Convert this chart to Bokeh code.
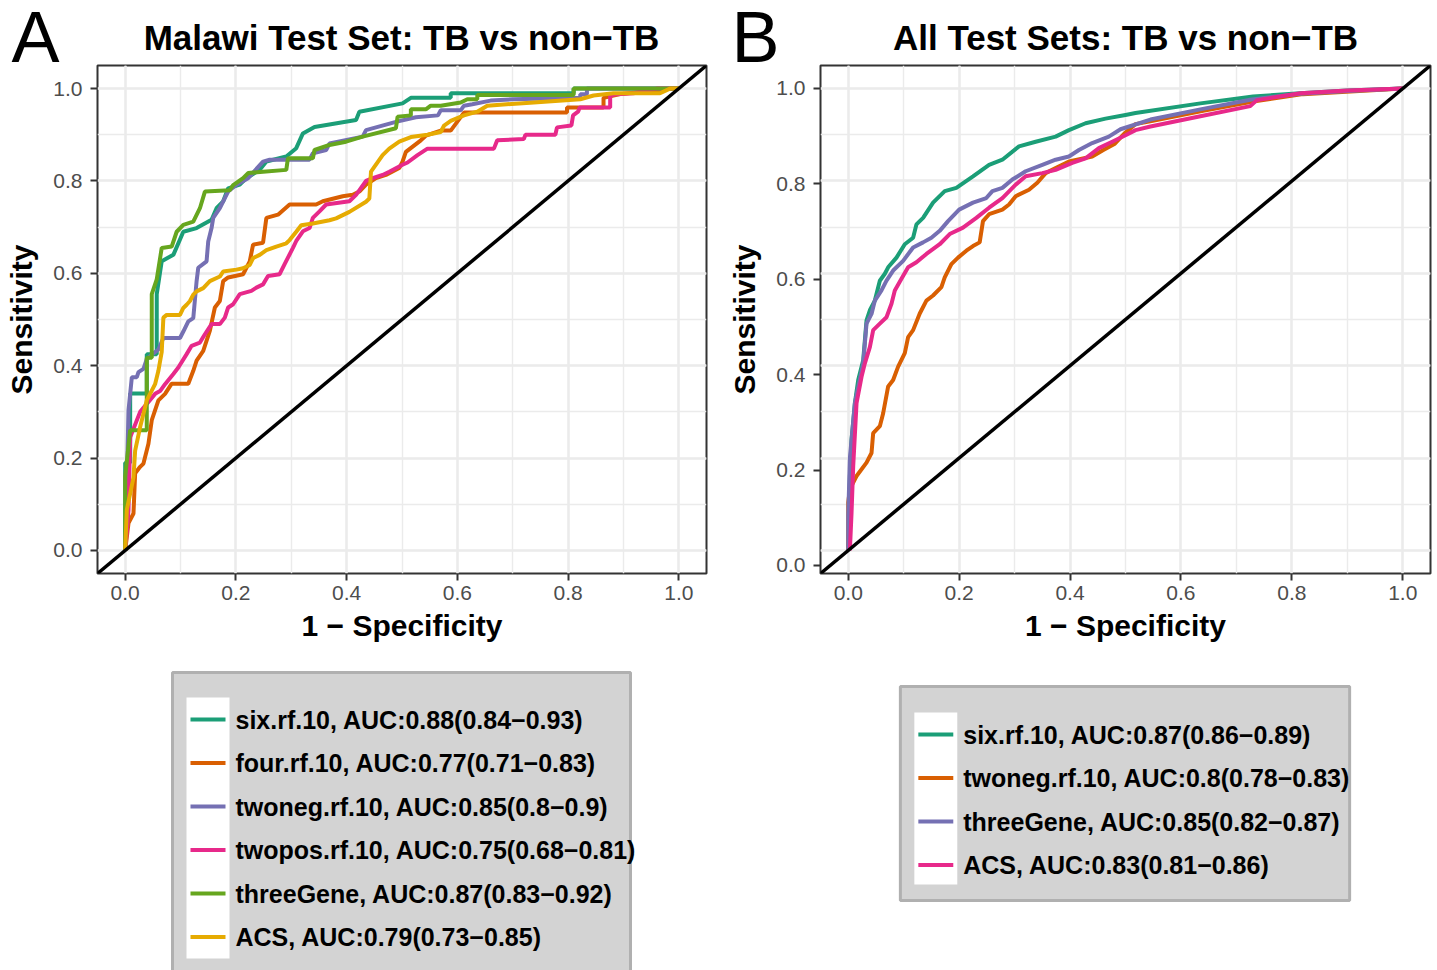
from bokeh.plotting import figure
from bokeh.layouts import row, column
from bokeh.models import (Range1d, SingleIntervalTicker, PrintfTickFormatter, Slope, LinearAxis)
from bokeh.core.properties import value
from bokeh.embed import file_html
from bokeh.resources import INLINE

FONT = "Liberation Sans"
DARK2 = ["#1B9E77", "#D95F02", "#7570B3", "#E7298A", "#66A61E", "#E6AB02"]

# ---------------- Panel A: Malawi test set ----------------
malawi_title = "Malawi Test Set: TB vs non\u2212TB"
malawi_models = ["six.rf.10", "four.rf.10", "twoneg.rf.10", "twopos.rf.10", "threeGene", "ACS"]
malawi_auc = ["0.88", "0.77", "0.85", "0.75", "0.87", "0.79"]
malawi_ci_low = ["0.84", "0.71", "0.8", "0.68", "0.83", "0.73"]
malawi_ci_high = ["0.93", "0.83", "0.9", "0.81", "0.92", "0.85"]

malawi_six = [(0, 0), (0, 0.19), (0.009, 0.19), (0.009, 0.34), (0.039, 0.34), (0.039, 0.425),
              (0.057, 0.425), (0.057, 0.555), (0.066, 0.626), (0.078, 0.634), (0.087, 0.64),
              (0.105, 0.69), (0.129, 0.698), (0.156, 0.716), (0.165, 0.741), (0.177, 0.756),
              (0.186, 0.784), (0.207, 0.792), (0.219, 0.806), (0.243, 0.824), (0.255, 0.842),
              (0.291, 0.853), (0.309, 0.871), (0.321, 0.903), (0.342, 0.917), (0.417, 0.932),
              (0.423, 0.95), (0.501, 0.968), (0.516, 0.98), (0.588, 0.98), (0.588, 0.99),
              (0.81, 0.99), (0.81, 1.0), (1.0, 1.0)]
malawi_four = [(0, 0), (0.006, 0.059), (0.015, 0.08), (0.018, 0.167), (0.027, 0.181), (0.033, 0.188),
               (0.042, 0.231), (0.048, 0.282), (0.06, 0.325), (0.072, 0.339), (0.084, 0.361),
               (0.114, 0.361), (0.123, 0.389), (0.129, 0.411), (0.141, 0.432), (0.153, 0.476),
               (0.162, 0.526), (0.171, 0.54), (0.177, 0.583), (0.186, 0.591), (0.213, 0.598),
               (0.225, 0.626), (0.231, 0.662), (0.249, 0.666), (0.255, 0.72), (0.276, 0.727),
               (0.297, 0.749), (0.345, 0.749), (0.357, 0.756), (0.393, 0.767), (0.411, 0.77),
               (0.423, 0.777), (0.435, 0.792), (0.453, 0.806), (0.471, 0.813), (0.495, 0.828),
               (0.501, 0.842), (0.507, 0.863), (0.534, 0.888), (0.543, 0.898), (0.57, 0.909),
               (0.588, 0.909), (0.612, 0.948), (0.798, 0.948), (0.798, 0.959), (0.864, 0.959),
               (0.864, 0.98), (0.894, 0.988), (0.99, 1.0), (1.0, 1.0)]
malawi_twoneg = [(0, 0), (0.006, 0.303), (0.012, 0.375), (0.021, 0.375), (0.024, 0.386), (0.033, 0.393),
                 (0.039, 0.414), (0.048, 0.424), (0.06, 0.435), (0.069, 0.46), (0.099, 0.46),
                 (0.105, 0.474), (0.114, 0.496), (0.123, 0.503), (0.129, 0.583), (0.132, 0.612),
                 (0.147, 0.626), (0.15, 0.669), (0.156, 0.698), (0.159, 0.72), (0.171, 0.741),
                 (0.18, 0.763), (0.186, 0.777), (0.201, 0.792), (0.222, 0.806), (0.249, 0.842),
                 (0.261, 0.846), (0.333, 0.846), (0.339, 0.86), (0.363, 0.867), (0.369, 0.881),
                 (0.429, 0.896), (0.435, 0.91), (0.489, 0.928), (0.525, 0.938), (0.565, 0.942),
                 (0.57, 0.953), (0.606, 0.953), (0.612, 0.963), (0.627, 0.966), (0.66, 0.974),
                 (0.70, 0.977), (0.822, 0.98), (0.822, 0.988), (0.834, 0.988), (0.834, 1.0), (1.0, 1.0)]
malawi_twopos = [(0, 0), (0.006, 0.088), (0.009, 0.245), (0.027, 0.30), (0.054, 0.339), (0.063, 0.345),
                 (0.072, 0.36), (0.087, 0.382), (0.096, 0.396), (0.111, 0.425), (0.12, 0.443),
                 (0.135, 0.45), (0.144, 0.468), (0.156, 0.49), (0.171, 0.49), (0.18, 0.504),
                 (0.186, 0.526), (0.195, 0.533), (0.207, 0.555), (0.228, 0.562), (0.237, 0.569),
                 (0.249, 0.576), (0.258, 0.594), (0.279, 0.598), (0.288, 0.62), (0.303, 0.655),
                 (0.309, 0.67), (0.321, 0.691), (0.333, 0.698), (0.339, 0.72), (0.351, 0.734),
                 (0.363, 0.749), (0.405, 0.756), (0.417, 0.77), (0.435, 0.80), (0.447, 0.806),
                 (0.465, 0.813), (0.477, 0.82), (0.501, 0.835), (0.51, 0.84), (0.528, 0.856),
                 (0.546, 0.87), (0.666, 0.87), (0.672, 0.888), (0.72, 0.891), (0.723, 0.90),
                 (0.777, 0.90), (0.78, 0.916), (0.806, 0.92), (0.809, 0.942), (0.818, 0.95),
                 (0.821, 0.959), (0.876, 0.959), (0.876, 0.985), (0.888, 0.988), (0.918, 0.99),
                 (0.96, 1.0), (1.0, 1.0)]
malawi_three = [(0, 0), (0, 0.16), (0.009, 0.26), (0.039, 0.26), (0.039, 0.417), (0.048, 0.417),
                (0.048, 0.555), (0.057, 0.587), (0.066, 0.655), (0.084, 0.658), (0.093, 0.69),
                (0.105, 0.705), (0.123, 0.712), (0.135, 0.741), (0.144, 0.777), (0.189, 0.78),
                (0.195, 0.791), (0.213, 0.806), (0.222, 0.817), (0.249, 0.82), (0.291, 0.824),
                (0.294, 0.849), (0.339, 0.849), (0.342, 0.867), (0.369, 0.878), (0.399, 0.885),
                (0.429, 0.896), (0.489, 0.914), (0.492, 0.939), (0.516, 0.942), (0.516, 0.955),
                (0.543, 0.955), (0.552, 0.963), (0.57, 0.963), (0.606, 0.97), (0.618, 0.977),
                (0.636, 0.977), (0.636, 0.986), (0.81, 0.986), (0.81, 1.0), (1.0, 1.0)]
malawi_acs = [(0, 0), (0.003, 0.088), (0.009, 0.123), (0.015, 0.158), (0.018, 0.216), (0.027, 0.267),
              (0.033, 0.296), (0.039, 0.325), (0.054, 0.36), (0.06, 0.389), (0.066, 0.43),
              (0.069, 0.504), (0.075, 0.51), (0.099, 0.51), (0.105, 0.525), (0.111, 0.532),
              (0.117, 0.54), (0.123, 0.554), (0.129, 0.561), (0.141, 0.568), (0.153, 0.583),
              (0.171, 0.593), (0.177, 0.604), (0.201, 0.608), (0.213, 0.611), (0.225, 0.618),
              (0.231, 0.633), (0.243, 0.64), (0.255, 0.65), (0.273, 0.658), (0.291, 0.665),
              (0.297, 0.672), (0.309, 0.69), (0.318, 0.704), (0.339, 0.708), (0.369, 0.715),
              (0.381, 0.719), (0.405, 0.733), (0.435, 0.755), (0.441, 0.762), (0.444, 0.82),
              (0.465, 0.856), (0.477, 0.87), (0.495, 0.885), (0.516, 0.895), (0.546, 0.90),
              (0.57, 0.906), (0.576, 0.92), (0.588, 0.93), (0.612, 0.942), (0.636, 0.95),
              (0.654, 0.963), (0.738, 0.97), (0.822, 0.977), (0.846, 0.985), (0.882, 0.99),
              (0.966, 0.99), (0.984, 1.0), (1.0, 1.0)]
malawi_curves = [malawi_six, malawi_four, malawi_twoneg, malawi_twopos, malawi_three, malawi_acs]

# ---------------- Panel B: all test sets ----------------
all_title = "All Test Sets: TB vs non\u2212TB"
all_models = ["six.rf.10", "twoneg.rf.10", "threeGene", "ACS"]
all_auc = ["0.87", "0.8", "0.85", "0.83"]
all_ci_low = ["0.86", "0.78", "0.82", "0.81"]
all_ci_high = ["0.89", "0.83", "0.87", "0.86"]

all_six = [(0, 0), (0.003, 0.161), (0.006, 0.24), (0.012, 0.319), (0.018, 0.369), (0.027, 0.412),
           (0.033, 0.498), (0.039, 0.52), (0.048, 0.541), (0.057, 0.584), (0.066, 0.599),
           (0.072, 0.613), (0.087, 0.634), (0.102, 0.663), (0.117, 0.677), (0.123, 0.706),
           (0.135, 0.72), (0.153, 0.753), (0.174, 0.778), (0.195, 0.785), (0.225, 0.81),
           (0.254, 0.835), (0.278, 0.846), (0.308, 0.875), (0.338, 0.885), (0.374, 0.896),
           (0.398, 0.91), (0.428, 0.925), (0.464, 0.935), (0.5, 0.943), (0.518, 0.947),
           (0.635, 0.968), (0.73, 0.983), (0.815, 0.99), (0.9, 0.996), (1.0, 1.0)]
all_twoneg = [(0, 0), (0, 0.104), (0.003, 0.133), (0.015, 0.161), (0.033, 0.19), (0.042, 0.211),
              (0.045, 0.254), (0.057, 0.269), (0.063, 0.297), (0.072, 0.355), (0.081, 0.369),
              (0.09, 0.398), (0.102, 0.427), (0.108, 0.462), (0.117, 0.477), (0.129, 0.513),
              (0.141, 0.541), (0.153, 0.552), (0.168, 0.57), (0.174, 0.591), (0.186, 0.62),
              (0.198, 0.634), (0.213, 0.649), (0.225, 0.659), (0.237, 0.667), (0.243, 0.713),
              (0.254, 0.728), (0.278, 0.738), (0.29, 0.749), (0.302, 0.767), (0.326, 0.781),
              (0.341, 0.796), (0.356, 0.817), (0.374, 0.828), (0.398, 0.842), (0.44, 0.853),
              (0.46, 0.867), (0.48, 0.88), (0.5, 0.905), (0.518, 0.923), (0.547, 0.93),
              (0.64, 0.952), (0.73, 0.972), (0.82, 0.988), (1.0, 1.0)]
all_three = [(0, 0), (0, 0.075), (0.003, 0.2), (0.012, 0.319), (0.027, 0.405), (0.033, 0.491),
             (0.042, 0.512), (0.048, 0.541), (0.06, 0.563), (0.069, 0.584), (0.081, 0.606),
             (0.099, 0.627), (0.117, 0.656), (0.135, 0.667), (0.15, 0.677), (0.165, 0.692),
             (0.18, 0.713), (0.2, 0.738), (0.225, 0.753), (0.249, 0.763), (0.26, 0.778),
             (0.278, 0.785), (0.296, 0.803), (0.32, 0.821), (0.35, 0.835), (0.374, 0.846),
             (0.398, 0.853), (0.416, 0.867), (0.44, 0.882), (0.47, 0.896), (0.491, 0.912),
             (0.545, 0.933), (0.635, 0.955), (0.725, 0.976), (0.815, 0.989), (0.9, 0.995), (1.0, 1.0)]
all_acs = [(0.003, 0), (0.006, 0.082), (0.009, 0.183), (0.015, 0.319), (0.024, 0.376), (0.03, 0.405),
           (0.039, 0.44), (0.045, 0.477), (0.057, 0.491), (0.069, 0.505), (0.078, 0.534),
           (0.084, 0.563), (0.096, 0.588), (0.108, 0.613), (0.123, 0.624), (0.141, 0.642),
           (0.165, 0.663), (0.183, 0.685), (0.207, 0.699), (0.231, 0.72), (0.254, 0.742),
           (0.278, 0.763), (0.302, 0.792), (0.32, 0.81), (0.35, 0.817), (0.374, 0.824),
           (0.404, 0.839), (0.428, 0.849), (0.452, 0.871), (0.476, 0.885), (0.5, 0.899),
           (0.518, 0.91), (0.545, 0.918), (0.635, 0.94), (0.725, 0.962), (0.737, 0.975),
           (0.815, 0.99), (0.9, 0.996), (1.0, 1.0)]
all_curves = [all_six, all_twoneg, all_three, all_acs]

panel_letters = ["A", "B"]
panel_titles = [malawi_title, all_title]


def style_axis(ax, label, standoff, label_standoff):
    ax.ticker = SingleIntervalTicker(interval=0.2, num_minor_ticks=2)
    ax.formatter = PrintfTickFormatter(format="%.1f")
    ax.axis_label = label
    ax.axis_label_text_font = FONT
    ax.axis_label_text_font_size = "30px"
    ax.axis_label_text_font_style = "bold"
    ax.axis_label_text_color = "black"
    ax.axis_label_standoff = label_standoff
    ax.major_label_text_font = FONT
    ax.major_label_text_font_size = "21px"
    ax.major_label_text_color = "#4D4D4D"
    ax.major_label_standoff = standoff
    ax.major_tick_in = 0
    ax.major_tick_out = 7
    ax.major_tick_line_width = 2
    ax.major_tick_line_color = "#333333"
    ax.minor_tick_line_color = None
    ax.axis_line_color = None


def roc_panel(curves, colors, width, left, right, custom_y):
    p = figure(width=width, height=596, output_backend="svg", toolbar_location=None,
               x_range=Range1d(-0.05, 1.05), y_range=Range1d(-0.05, 1.05),
               min_border_left=left, min_border_right=right, min_border_top=1,
               min_border_bottom=87, y_axis_location=None if custom_y else "left")
    p.outline_line_color = "#333333"
    p.outline_line_width = 2
    p.background_fill_color = "white"
    p.border_fill_color = "white"

    grid_ticker = SingleIntervalTicker(interval=0.2, num_minor_ticks=2)
    for g in (p.xgrid, p.ygrid):
        g.ticker = grid_ticker
        g.grid_line_color = "#EBEBEB"
        g.grid_line_width = 2.5
        g.minor_grid_line_color = "#EBEBEB"
        g.minor_grid_line_width = 1.4

    style_axis(p.xaxis[0], "1 \u2212 Specificity", 5, 6)
    if custom_y:
        # this panel's tick labels sit slightly lower than its grid in the reference
        p.extra_y_ranges = {"ticks": Range1d(-0.0168, 1.048)}
        yax = LinearAxis(y_range_name="ticks")
        p.add_layout(yax, "left")
    else:
        yax = p.yaxis[0]
    style_axis(yax, "Sensitivity", 8, 12)

    for pts, col in zip(curves, colors):
        xs = [a for a, b in pts]
        ys = [b for a, b in pts]
        p.line(xs, ys, line_color=col, line_width=4)

    p.add_layout(Slope(gradient=1, y_intercept=0, line_color="black", line_width=3.5))
    return p


def header_panel():
    h = figure(width=1437, height=64, output_backend="svg", toolbar_location=None,
               x_range=Range1d(0, 1437), y_range=Range1d(64, 0), min_border=0,
               x_axis_location=None, y_axis_location=None, outline_line_color=None)
    h.grid.visible = False
    h.background_fill_color = "white"
    h.border_fill_color = "white"
    h.text(x=[11, 731], y=[36, 36], text=panel_letters, text_font=value(FONT),
           text_font_size=value("72px"), text_color="black",
           text_baseline="middle", text_align="left")
    h.text(x=[401, 1125], y=[37, 37], text=panel_titles, text_font=value(FONT),
           text_font_size=value("35px"), text_font_style="bold", text_color="black",
           text_baseline="middle", text_align="center")
    return h


def legend_panel(models, aucs, lows, highs, colors, fx0, fx1, box, key, row0, text_x):
    lg = figure(width=718, height=310, output_backend="svg", toolbar_location=None,
                x_range=Range1d(fx0, fx1), y_range=Range1d(970, 660),
                min_border=0, x_axis_location=None, y_axis_location=None,
                outline_line_color=None)
    lg.grid.visible = False
    lg.background_fill_color = "white"
    lg.border_fill_color = "white"
    bl, br, bt, bb = box
    lg.quad(left=[bl], right=[br], top=[bt], bottom=[bb], fill_color="#D3D3D3",
            line_color="#B0B0B0", line_width=3)
    kl, kr, kt, kb = key
    lg.quad(left=[kl], right=[kr], top=[kt], bottom=[kb], fill_color="white", line_color=None)
    step = 43.5
    ys = [row0 + i * step for i in range(len(models))]
    labels = [f"{m}, AUC:{a}({lo}\u2212{hi})" for m, a, lo, hi in zip(models, aucs, lows, highs)]
    lg.segment(x0=[kl + 4] * len(ys), y0=ys, x1=[kr - 4] * len(ys), y1=ys,
               line_color=colors, line_width=4)
    lg.text(x=[text_x] * len(ys), y=ys, text=labels, text_font=value(FONT),
            text_font_size=value("25px"), text_font_style="bold", text_color="black",
            text_baseline="middle", text_align="left")
    return lg


pa = roc_panel(malawi_curves, DARK2, 718, 97, 12, False)
pb = roc_panel(all_curves, DARK2[:4], 719, 102, 7, True)

# legend figures share the plot frames' horizontal extent (page px 97-706 and 820-1430)
la = legend_panel(malawi_models, malawi_auc, malawi_ci_low, malawi_ci_high, DARK2,
                  97, 706, (172, 630, 672, 990), (186, 229, 697, 958), 719, 235)
lb = legend_panel(all_models, all_auc, all_ci_low, all_ci_high, DARK2[:4],
                  820, 1430, (900, 1350, 686, 900), (914, 957, 712, 884), 734, 963)

layout = column(header_panel(), row(column(pa, la), column(pb, lb)))
open("out.html", "w").write(file_html(layout, INLINE))
